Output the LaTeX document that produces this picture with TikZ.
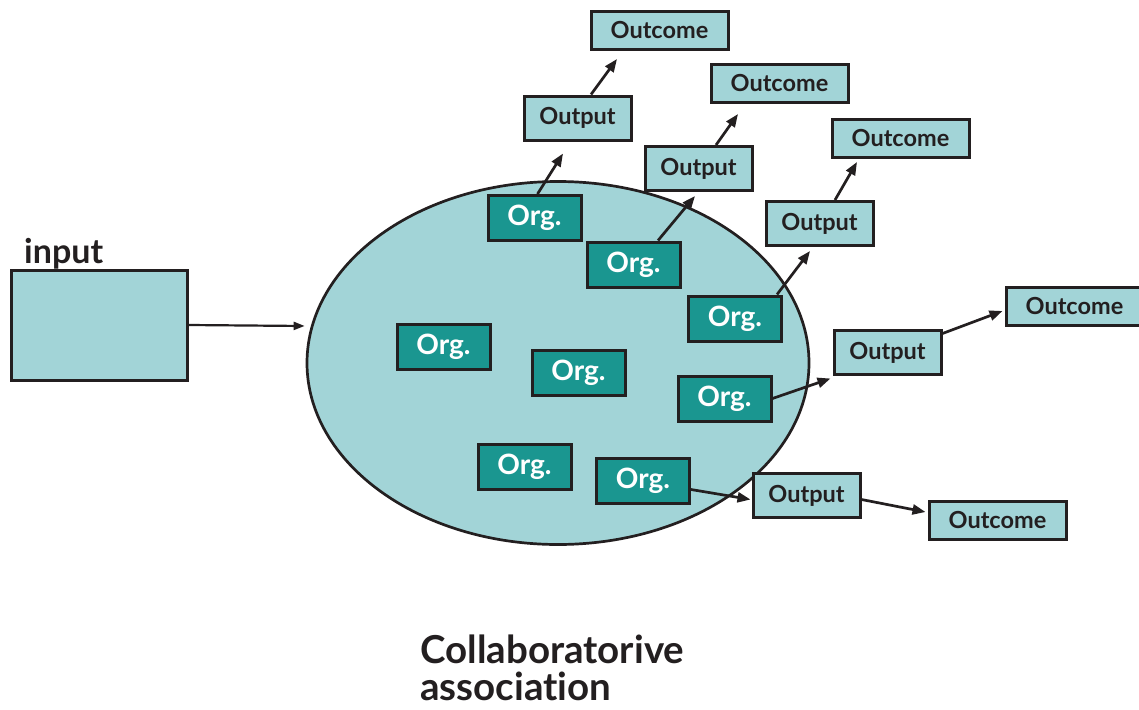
\documentclass[tikz,border=0pt]{standalone}
\usepackage{fontspec}
\setmainfont[Ligatures=NoCommon]{Lato}
\usetikzlibrary{shapes.geometric,arrows.meta,calc}
\definecolor{lightteal}{RGB}{162,212,215}
\definecolor{darkteal}{RGB}{26,150,144}
\definecolor{ink}{RGB}{35,31,32}
\tikzset{
  outbox/.style={draw=ink,fill=lightteal,line width=3pt,minimum width=107pt,minimum height=44pt,inner sep=0pt,text=ink,font=\fontsize{23.5}{25}\selectfont\bfseries},
  outcomebox/.style={outbox,minimum width=137pt,minimum height=38pt},
  orgbox/.style={draw=ink,fill=darkteal,line width=3pt,minimum width=93pt,minimum height=45pt,inner sep=0pt,text=white,font=\fontsize{28}{30}\selectfont\bfseries},
  arr/.style={draw=ink,line width=2.7pt,-{Triangle[length=13pt,width=10pt]}},
}
\begin{document}
\begin{tikzpicture}[x=1pt,y=-1pt]
\useasboundingbox (0,0) rectangle (1139,709);
% input
\node[draw=ink,fill=lightteal,line width=3pt,minimum width=176pt,minimum height=110pt,inner sep=0pt] (input) at (99,325) {};
\node[anchor=base west,inner sep=0pt,text=ink,font=\fontsize{34}{36}\selectfont\bfseries] (inlabel) at (24,263) {input};
% ellipse
\node[ellipse,draw=ink,fill=lightteal,line width=2.7pt,minimum width=502pt,minimum height=363pt,inner sep=0pt] (ell) at (558,363) {};
% orgs
\node[orgbox] (orgA) at (534.5,218) {Org.};
\node[orgbox] (orgB) at (633.5,264.5) {Org.};
\node[orgbox] (orgC) at (735,318.5) {Org.};
\node[orgbox] (orgD) at (443.5,346.5) {Org.};
\node[orgbox] (orgE) at (578.5,373) {Org.};
\node[orgbox] (orgF) at (724.5,398.5) {Org.};
\node[orgbox] (orgG) at (524.5,466.5) {Org.};
\node[orgbox] (orgH) at (643,480.5) {Org.};
% outputs
\node[outbox] (out1) at (577.5,118) {Output};
\node[outbox] (out2) at (698.5,168.5) {Output};
\node[outbox] (out3) at (819.5,223.5) {Output};
\node[outbox] (out4) at (887.5,352.5) {Output};
\node[outbox] (out5) at (806.5,495.5) {Output};
% outcomes
\node[outcomebox] (oc1) at (659.5,30.5) {Outcome};
\node[outcomebox] (oc2) at (779.5,83.5) {Outcome};
\node[outcomebox] (oc3) at (900.5,138.5) {Outcome};
\node[outcomebox] (oc4) at (1074.5,306.5) {Outcome};
\node[outcomebox] (oc5) at (997.5,520) {Outcome};
% arrows
\draw[draw=ink,line width=2.2pt,-{Triangle[length=11pt,width=8pt]}] (input.east) -- ($(ell.west)+(-1,-37)$);
\draw[arr] ($(orgA.north)+(3,0)$) -- ($(out1.south)+(-14.5,12)$);
\draw[arr] ($(out1.north)+(13.5,0)$) -- ($(oc1.south)+(-42.5,8)$);
\draw[arr] ($(orgB.north)+(24.5,0)$) -- ($(out2.south)+(-3.5,4)$);
\draw[arr] ($(out2.north)+(17.5,0)$) -- ($(oc2.south)+(-41.5,10)$);
\draw[arr] ($(orgC.north)+(42,0)$) -- ($(out3.south)+(-9.5,4)$);
\draw[arr] ($(out3.north)+(15.5,0)$) -- ($(oc3.south)+(-43.5,3)$);
\draw[arr] (orgF.east) -- ($(out4.west)+(-2,26)$);
\draw[arr] ($(out4.east)+(0,-19)$) -- ($(oc4.west)+(-2,4.5)$);
\draw[arr] ($(orgH.east)+(0,9)$) -- ($(out5.west)+(-1,4)$);
\draw[arr] ($(out5.east)+(0,4)$) -- ($(oc5.west)+(-2,-8)$);
% caption
\node[anchor=base west,align=left,inner sep=0pt,text=ink,font=\fontsize{38.5}{37}\selectfont\bfseries] (caption) at (420,700) {Collaboratorive\\association};
\end{tikzpicture}
\end{document}
